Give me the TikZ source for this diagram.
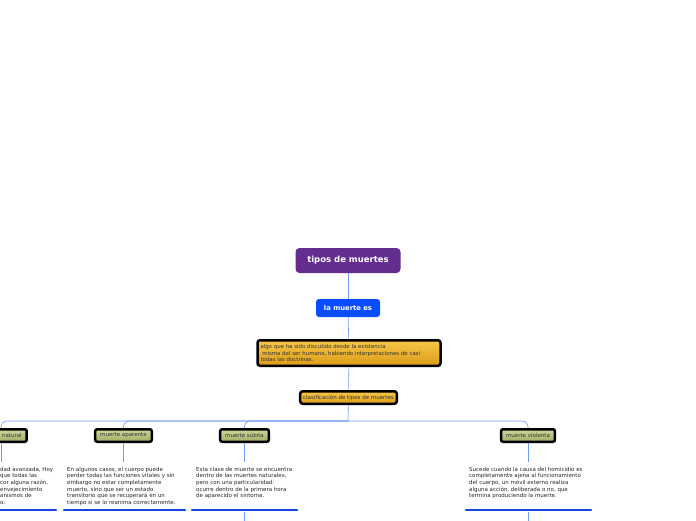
\documentclass[tikz,border=0pt]{standalone}
\usepackage{fontspec}
\setmainfont{DejaVu Sans}
\usetikzlibrary{positioning}
\definecolor{topicpurple}{HTML}{662D91}
\definecolor{mainblue}{HTML}{0A4DFF}
\definecolor{linkblue}{HTML}{6F9AF5}
\definecolor{barblue}{HTML}{1446E0}
\definecolor{orangetop}{HTML}{F7C64A}
\definecolor{orangebot}{HTML}{DC9C18}
\definecolor{leaftop}{HTML}{CFD79C}
\definecolor{leafbot}{HTML}{A2AD64}

\tikzset{
  central/.style={rounded corners=4pt, fill=topicpurple, text=white,
    font=\fontsize{8.5}{9}\selectfont\bfseries, minimum width=105pt, minimum height=25pt},
  mainbox/.style={rounded corners=3pt, fill=mainblue, text=white,
    font=\fontsize{6.8}{7}\selectfont\bfseries, minimum width=64pt, minimum height=18pt},
  notebox/.style={draw=black, line width=2.5pt, rounded corners=2.5pt,
    top color=orangetop, bottom color=orangebot, text=black!80,
    font=\fontsize{5.4}{6.3}\selectfont, align=left, inner xsep=3pt},
  leafbox/.style={draw=black, line width=2.5pt, rounded corners=2pt,
    top color=leaftop, bottom color=leafbot, text=black!80,
    font=\fontsize{5.5}{6}\selectfont, minimum height=12.5pt, inner xsep=5pt},
  memo/.style={anchor=north west, align=left, text=black!85,
    font=\fontsize{5.5}{6.6}\selectfont, inner sep=0pt},
  link/.style={draw=linkblue, line width=0.6pt},
  bar/.style={draw=barblue, line width=2.6pt, line cap=round},
}

\begin{document}
\begin{tikzpicture}[x=1pt,y=-1pt]
  \useasboundingbox (0,0) rectangle (696,520);
  \clip (0,0) rectangle (696,520);

  % main column
  \node[central] (tipos) at (348,260.5) {tipos de muertes};
  \node[mainbox] (muertees) at (348,308) {la muerte es};
  \node[notebox, text width=177pt, minimum height=25.5pt] (discutido) at (349,353)
    {algo que ha sido discutido desde la existencia\\
     \ misma del ser humano, habiendo interpretaciones de casi\\
     todas las doctrinas.};
  \node[notebox, font=\fontsize{5.5}{6}\selectfont, minimum height=12.5pt, inner xsep=3pt] (clasif) at (348.5,397.5)
    {clasificaci\'on de tipos de muertes};
  \coordinate (split) at (348,421);

  \draw[link] (tipos) -- (muertees);
  \draw[link] (muertees) -- (discutido);
  \draw[link] (discutido) -- (clasif);
  \draw[link] (clasif) -- (split);

  % kinds
  \node[leafbox] (natural) at (1,435.5) {muerte natural};
  \node[leafbox] (aparente) at (123.5,435.5) {muerte aparente};
  \node[leafbox] (subita) at (244.5,435.5) {muerte s\'ubita};
  \node[leafbox] (violenta) at (528,435.5) {muerte violenta};

  \foreach \k in {natural,aparente,subita,violenta}
    \draw[link, rounded corners=6pt] (split) -| (\k.north);

  % descriptions
  \node[memo] (natmemo) at (0,467)
    {dad avanzada, Hoy\\ que todas las\\ cor alguna raz\'on,\\ envejecimiento\\ anismos de\\ o.};
  \node[memo] (apamemo) at (67,467)
    {En algunos casos, el cuerpo puede\\
     perder todas las funciones vitales y sin\\
     embargo no estar completamente\\
     muerto, sino que ser un estado\\
     transitorio que se recuperar\'a en un\\
     tiempo si se lo reanima correctamente.};
  \node[memo] (submemo) at (196,467)
    {Esta clase de muerte se encuentra\\
     dentro de las muertes naturales,\\
     pero con una particularidad:\\
     ocurre dentro de la primera hora\\
     de aparecido el s\'intoma.};
  \node[memo] (viomemo) at (469,467)
    {Sucede cuando la causa del homicidio es\\
     completamente ajena al funcionamiento\\
     del cuerpo, un m\'ovil externo realiza\\
     alguna acci\'on, deliberada o no, que\\
     termina produciendo la muerte.};

  \draw[link] (natural.south) -- (natural.south |- 0,462);
  \draw[link] (aparente.south) -- (aparente.south |- 0,462);
  \draw[link] (subita.south) -- (subita.south |- 0,462);
  \draw[link] (violenta.south) -- (violenta.south |- 0,462);

  % underlines
  \draw[bar] (-5,510) -- (56,510);
  \draw[bar] (64,510) -- (185,510);
  \draw[bar] (192,510) -- (297,510);
  \draw[bar] (466,510) -- (591,510);

  \draw[link] (subita.south |- 0,512) -- (subita.south |- 0,525);
  \draw[link] (violenta.south |- 0,512) -- (violenta.south |- 0,525);
\end{tikzpicture}
\end{document}
